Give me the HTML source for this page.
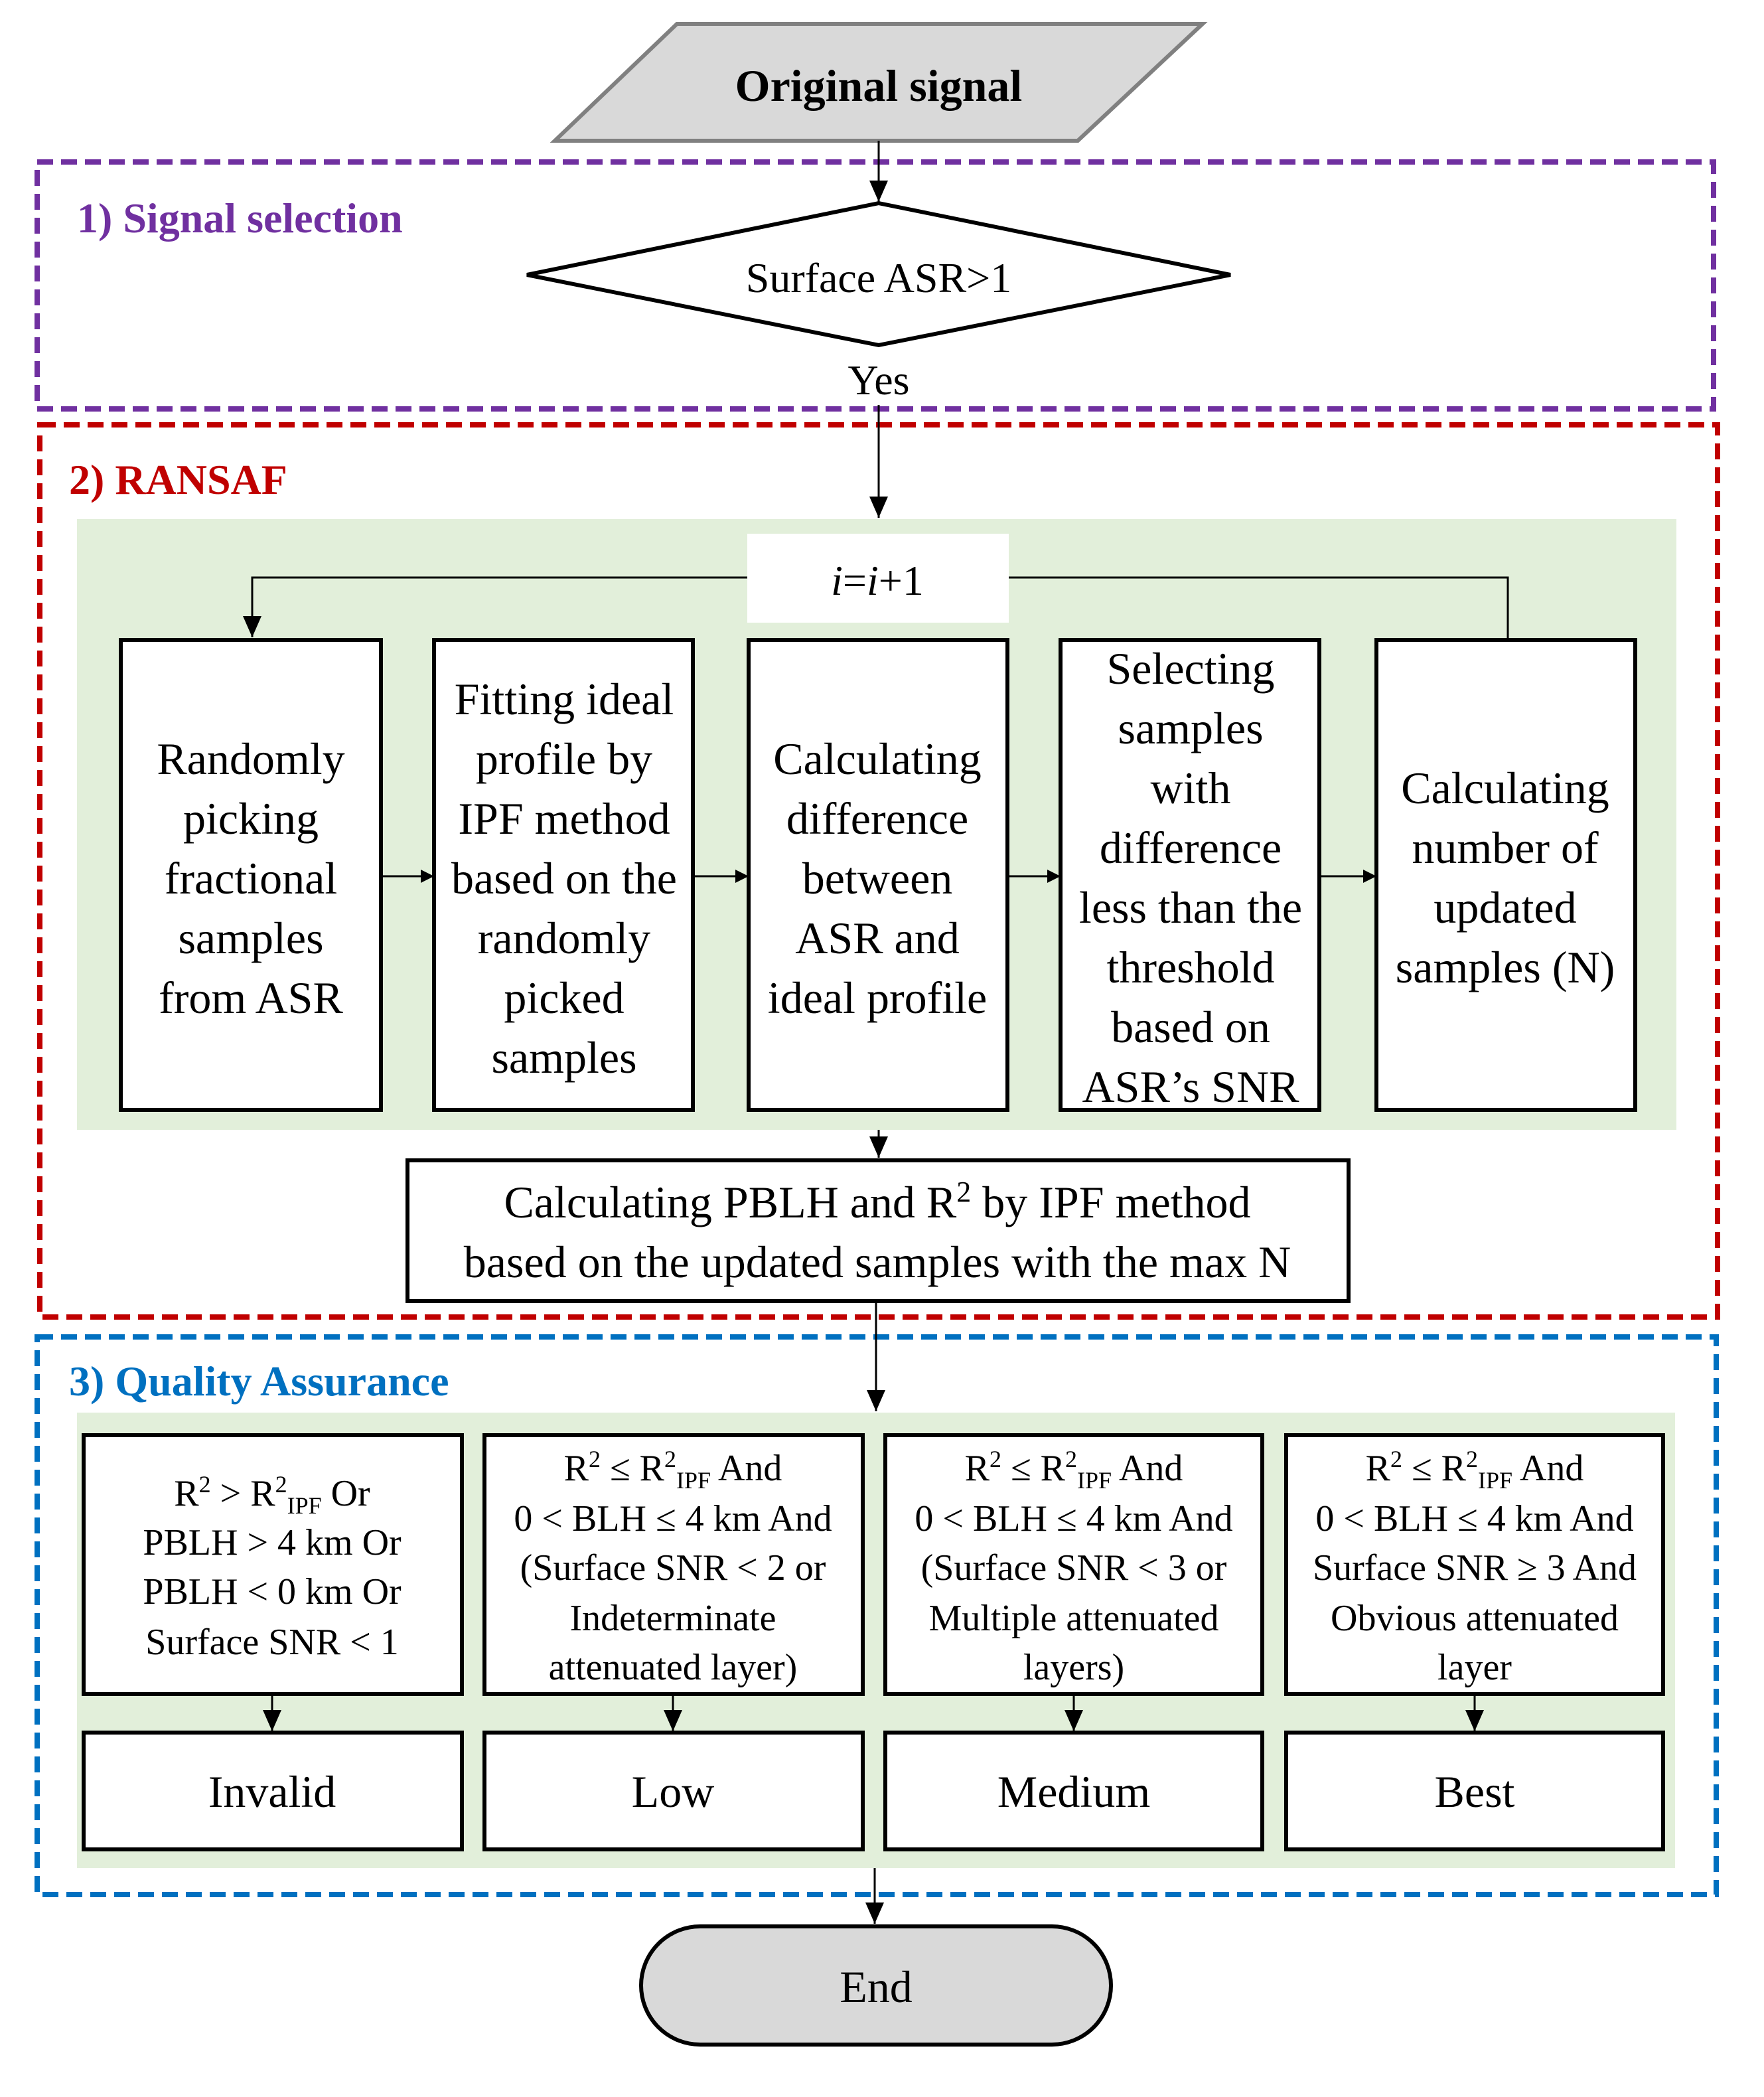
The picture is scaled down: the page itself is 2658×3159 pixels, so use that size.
<!DOCTYPE html>
<html><head><meta charset="utf-8"><style>html,body{margin:0;padding:0;background:#fff}svg{display:block}</style></head><body>
<svg width="2658" height="3159" viewBox="0 0 1329 1579.5" xmlns="http://www.w3.org/2000/svg" font-family="Liberation Serif, serif">
<defs><marker id="a" markerWidth="10" markerHeight="10" refX="9" refY="5" orient="auto" markerUnits="userSpaceOnUse"><path d="M0,0 L10,5 L0,10 Z" fill="#000"/></marker>
<marker id="b" markerWidth="16" markerHeight="18" refX="16" refY="7" orient="auto" markerUnits="userSpaceOnUse"><path d="M0,0 L16,7 L0,14 Z" fill="#000"/></marker></defs>
<rect x="28" y="122" width="1263" height="186" fill="none" stroke="#7030a0" stroke-width="4" stroke-dasharray="12 6"/>
<rect x="30" y="320" width="1264" height="672" fill="none" stroke="#c00000" stroke-width="4" stroke-dasharray="12 6"/>
<rect x="28" y="1007" width="1265" height="420" fill="none" stroke="#0070c0" stroke-width="4" stroke-dasharray="12 6"/>
<rect x="58" y="391" width="1205" height="460" fill="#e2efda"/>
<rect x="58" y="1064" width="1204" height="343" fill="#e2efda"/>
<polygon points="418,106 510,18 906,18 812,106" fill="#d9d9d9" stroke="#808080" stroke-width="3"/>
<text x="662" y="76" font-size="34" font-weight="bold" text-anchor="middle">Original signal</text>
<line x1="662" y1="106" x2="662" y2="152" stroke="#000" stroke-width="1.5" marker-end="url(#b)"/>
<text x="58" y="175" font-size="32" font-weight="bold" fill="#7030a0">1) Signal selection</text>
<polygon points="397,207 662,153 927,207 662,260" fill="#fff" stroke="#000" stroke-width="3"/>
<text x="662" y="220" font-size="32" text-anchor="middle">Surface ASR&gt;1</text>
<text x="662" y="297" font-size="32" text-anchor="middle">Yes</text>
<line x1="662" y1="305" x2="662" y2="390" stroke="#000" stroke-width="1.5" marker-end="url(#b)"/>
<text x="52" y="372" font-size="32" font-weight="bold" fill="#c00000">2) RANSAF</text>
<rect x="563" y="402" width="197" height="67" fill="#fff"/>
<text x="661" y="448" font-size="32" text-anchor="middle"><tspan font-style="italic">i</tspan>=<tspan font-style="italic">i</tspan>+1</text>
<polyline points="563,435 190,435 190,480" fill="none" stroke="#000" stroke-width="1.5" marker-end="url(#b)"/>
<polyline points="760,435 1136,435 1136,482" fill="none" stroke="#000" stroke-width="1.5"/>
<g fill="#fff" stroke="#000" stroke-width="3">
<rect x="91" y="482" width="196" height="354"/><rect x="327" y="482" width="195" height="354"/><rect x="564" y="482" width="195" height="354"/><rect x="799" y="482" width="195" height="354"/><rect x="1037" y="482" width="195" height="354"/></g>
<g stroke="#000" stroke-width="1.5"><line x1="287" y1="660" x2="326" y2="660" marker-end="url(#a)"/><line x1="522" y1="660" x2="563" y2="660" marker-end="url(#a)"/><line x1="759" y1="660" x2="798" y2="660" marker-end="url(#a)"/><line x1="994" y1="660" x2="1036" y2="660" marker-end="url(#a)"/></g>
<g font-size="34" text-anchor="middle">
<text x="189" y="583">Randomly</text><text x="189" y="628">picking</text><text x="189" y="673">fractional</text><text x="189" y="718">samples</text><text x="189" y="763">from ASR</text>
<text x="425" y="538">Fitting ideal</text><text x="425" y="583">profile by</text><text x="425" y="628">IPF method</text><text x="425" y="673">based on the</text><text x="425" y="718">randomly</text><text x="425" y="763">picked</text><text x="425" y="808">samples</text>
<text x="661" y="583">Calculating</text><text x="661" y="628">difference</text><text x="661" y="673">between</text><text x="661" y="718">ASR and</text><text x="661" y="763">ideal profile</text>
<text x="897" y="515">Selecting</text><text x="897" y="560">samples</text><text x="897" y="605">with</text><text x="897" y="650">difference</text><text x="897" y="695">less than the</text><text x="897" y="740">threshold</text><text x="897" y="785">based on</text><text x="897" y="830">ASR’s SNR</text>
<text x="1134" y="605">Calculating</text><text x="1134" y="650">number of</text><text x="1134" y="695">updated</text><text x="1134" y="740">samples (N)</text>
</g>
<line x1="662" y1="851" x2="662" y2="872" stroke="#000" stroke-width="1.5" marker-end="url(#b)"/>
<rect x="307" y="874" width="709" height="106" fill="#fff" stroke="#000" stroke-width="3"/>
<g font-size="34" text-anchor="middle"><text x="661" y="917">Calculating PBLH and R<tspan font-size="22" dy="-12">2</tspan><tspan dy="12"> by IPF method</tspan></text>
<text x="661" y="962">based on the updated samples with the max N</text></g>
<line x1="660" y1="980" x2="660" y2="1063" stroke="#000" stroke-width="1.5" marker-end="url(#b)"/>
<text x="52" y="1051" font-size="32" font-weight="bold" fill="#0070c0">3) Quality Assurance</text>
<g fill="#fff" stroke="#000" stroke-width="3">
<rect x="63" y="1081" width="285" height="195"/><rect x="365" y="1081" width="285" height="195"/><rect x="667" y="1081" width="284" height="195"/><rect x="969" y="1081" width="284" height="195"/>
<rect x="63" y="1305" width="285" height="88"/><rect x="365" y="1305" width="285" height="88"/><rect x="667" y="1305" width="284" height="88"/><rect x="969" y="1305" width="284" height="88"/></g>
<g stroke="#000" stroke-width="1.5"><line x1="205" y1="1276" x2="205" y2="1304" marker-end="url(#b)"/><line x1="507" y1="1276" x2="507" y2="1304" marker-end="url(#b)"/><line x1="809" y1="1276" x2="809" y2="1304" marker-end="url(#b)"/><line x1="1111" y1="1276" x2="1111" y2="1304" marker-end="url(#b)"/></g>
<g font-size="28" text-anchor="middle">
<text x="205" y="1134">R<tspan font-size="18" dy="-10">2</tspan><tspan dy="10"> &gt; R</tspan><tspan font-size="18" dy="-10">2</tspan><tspan font-size="18" dy="16">IPF</tspan><tspan dy="-6"> Or</tspan></text>
<text x="205" y="1171">PBLH &gt; 4 km Or</text><text x="205" y="1208">PBLH &lt; 0 km Or</text><text x="205" y="1246">Surface SNR &lt; 1</text>
<text x="507" y="1115">R<tspan font-size="18" dy="-10">2</tspan><tspan dy="10"> ≤ R</tspan><tspan font-size="18" dy="-10">2</tspan><tspan font-size="18" dy="16">IPF</tspan><tspan dy="-6"> And</tspan></text>
<text x="507" y="1153">0 &lt; BLH ≤ 4 km And</text><text x="507" y="1190">(Surface SNR &lt; 2 or</text><text x="507" y="1228">Indeterminate</text><text x="507" y="1265">attenuated layer)</text>
<text x="809" y="1115">R<tspan font-size="18" dy="-10">2</tspan><tspan dy="10"> ≤ R</tspan><tspan font-size="18" dy="-10">2</tspan><tspan font-size="18" dy="16">IPF</tspan><tspan dy="-6"> And</tspan></text>
<text x="809" y="1153">0 &lt; BLH ≤ 4 km And</text><text x="809" y="1190">(Surface SNR &lt; 3 or</text><text x="809" y="1228">Multiple attenuated</text><text x="809" y="1265">layers)</text>
<text x="1111" y="1115">R<tspan font-size="18" dy="-10">2</tspan><tspan dy="10"> ≤ R</tspan><tspan font-size="18" dy="-10">2</tspan><tspan font-size="18" dy="16">IPF</tspan><tspan dy="-6"> And</tspan></text>
<text x="1111" y="1153">0 &lt; BLH ≤ 4 km And</text><text x="1111" y="1190">Surface SNR ≥ 3 And</text><text x="1111" y="1228">Obvious attenuated</text><text x="1111" y="1265">layer</text>
</g>
<g font-size="34" text-anchor="middle"><text x="205" y="1361">Invalid</text><text x="507" y="1361">Low</text><text x="809" y="1361">Medium</text><text x="1111" y="1361">Best</text></g>
<line x1="659" y1="1407" x2="659" y2="1449" stroke="#000" stroke-width="1.5" marker-end="url(#b)"/>
<rect x="483" y="1451" width="354" height="89" rx="44.5" fill="#d9d9d9" stroke="#000" stroke-width="3"/>
<text x="660" y="1508" font-size="34" text-anchor="middle">End</text>
</svg>
</body></html>
